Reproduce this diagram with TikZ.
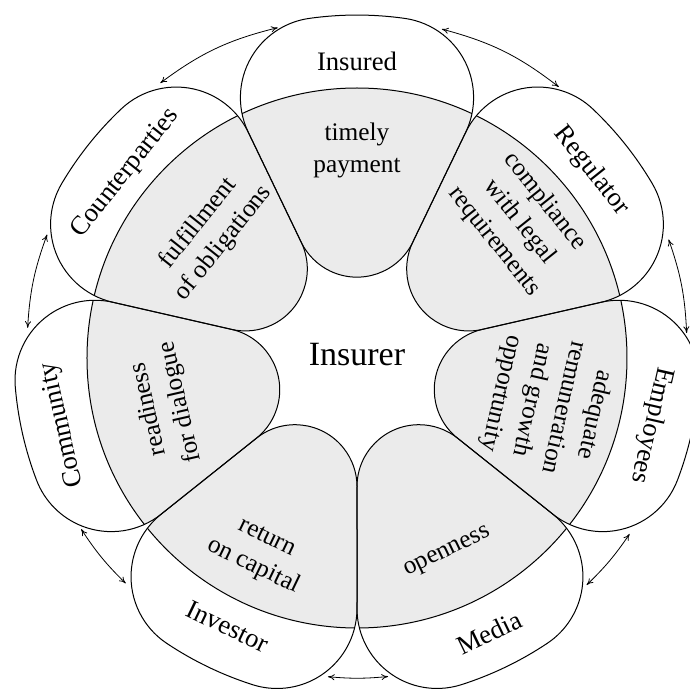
\documentclass[tikz,border=0pt]{standalone}
\usepackage{fontspec}
\setmainfont{Liberation Serif}
\usetikzlibrary{arrows.meta}

\newcommand{\petal}[1]{({#1-25.714}:128.7)
  arc[start angle={#1-115.714}, end angle={#1-244.286}, radius=62]
  -- ({#1+25.714}:250.5)
  arc[start angle={#1+115.714}, end angle={#1+8}, radius=80]
  arc[start angle={#1+8}, end angle={#1-8}, radius=343]
  arc[start angle={#1-8}, end angle={#1-115.714}, radius=80] -- cycle}

\begin{document}
\begin{tikzpicture}[x=0.75pt,y=0.75pt,line width=0.75pt,
    lab/.style={font=\fontsize{20}{22}\selectfont,align=center},
    val/.style={font=\fontsize{19}{24}\selectfont,align=center},
    link/.style={<->,>={To[length=5pt,width=4.5pt]},line width=0.6pt}]
  \useasboundingbox (-357,-331) rectangle (333,358);
  \clip (-357,-331) rectangle (333,358);
  \foreach \a in {90,38.571,-12.857,-64.286,-115.714,-167.143,141.429} {
    \begin{scope}
      \clip \petal{\a};
      \fill[black!8] (0,0) circle[radius=270];
      \draw (0,0) circle[radius=270];
    \end{scope}
  }
  \foreach \a in {90,38.571,-12.857,-64.286,-115.714,-167.143,141.429}
    \draw \petal{\a};

  \node[font=\fontsize{25.5}{28}\selectfont] (insurer) at (0,3) {Insurer};

  \node[lab] (insured) at (90:297) {Insured};
  \node[lab,rotate=-51.43] (regulator) at (38.571:300) {Regulator};
  \node[lab,rotate=-102.86] (employees) at (-12.857:302) {Employees};
  \node[lab,rotate=25.71] (media) at (-64.286:305) {Media};
  \node[lab,rotate=-25.71] (investor) at (-115.714:298) {Investor};
  \node[lab,rotate=102.86] (community) at (-167.143:302) {Community};
  \node[lab,rotate=51.43] (counterparties) at (141.429:296) {Counterparties};

  \node[val] (payment) at (90:208) {timely\\payment};
  \node[val,rotate=-51.43] (compliance) at (40:212) {compliance\\with legal\\requirements};
  \node[val,rotate=-102.86] (remuneration) at (-13.5:196) {adequate\\remuneration\\and growth\\opportunity};
  \node[val,rotate=25.71] (openness) at (-65:215) {openness};
  \node[val,rotate=-25.71] (capital) at (-116.5:218) {return\\on capital};
  \node[val,rotate=102.86] (dialogue) at (-166:198) {readiness\\for dialogue};
  \node[val,rotate=51.43] (obligations) at (139.5:192) {fulfillment\\of obligations};

  \coordinate (a1) at ([shift={(0,10)}]126.6:330);
  \coordinate (b1) at ([shift={(0,10)}]103.9:330);
  \coordinate (a2) at ([shift={(0,10)}]75.1:330);
  \coordinate (b2) at ([shift={(0,10)}]52.3:330);
  \coordinate (a3) at ([shift={(0,10)}]19.2:330);
  \coordinate (b3) at ([shift={(0,10)}]2.6:330);
  \coordinate (a4) at ([shift={(0,10)}]-34.3:330);
  \coordinate (b4) at ([shift={(0,10)}]-45.9:330);
  \coordinate (a5) at ([shift={(0,10)}]-84.6:330);
  \coordinate (b5) at ([shift={(0,10)}]-95.05:330);
  \coordinate (a6) at ([shift={(0,10)}]-134.5:330);
  \coordinate (b6) at ([shift={(0,10)}]-146.7:330);
  \coordinate (a7) at ([shift={(0,10)}]176.5:330);
  \coordinate (b7) at ([shift={(0,10)}]159.9:330);
  \draw[link] (a1) to[bend left=11.4] (b1);
  \draw[link] (a2) to[bend left=11.4] (b2);
  \draw[link] (a3) to[bend left=8.3] (b3);
  \draw[link] (a4) to[bend left=5.8] (b4);
  \draw[link] (a5) to[bend left=5.2] (b5);
  \draw[link] (a6) to[bend left=6.1] (b6);
  \draw[link] (a7) to[bend left=8.3] (b7);
\end{tikzpicture}
\end{document}
